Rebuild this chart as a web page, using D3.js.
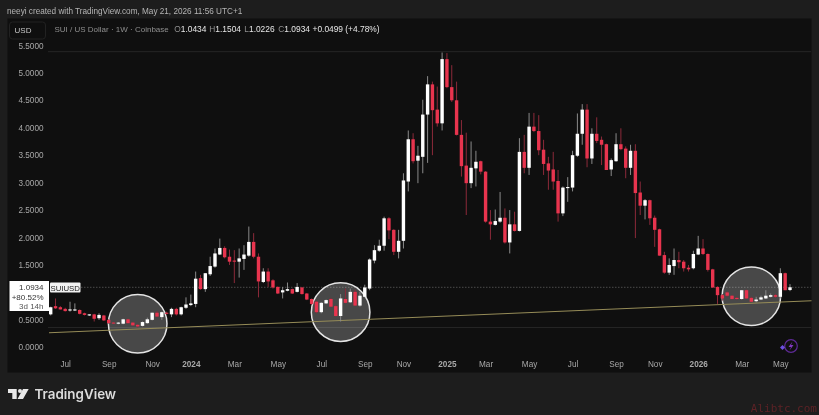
<!DOCTYPE html>
<html><head><meta charset="utf-8">
<script src="https://cdn.jsdelivr.net/npm/d3@7"></script>
<style>html,body{margin:0;padding:0;background:#1d1d1d;overflow:hidden}svg{display:block;filter:blur(.35px)}text{font-family:"Liberation Sans",Arial,sans-serif}</style>
</head><body><svg id="c" width="819" height="415"></svg>
<script>
const opens=[.60,.75,.73,.70,.67,.67,.68,.62,.58,.60,.53,.58,.50,.45,.43,.43,.51,.45,.41,.39,.44,.50,.63,.55,.63,.60,.70,.60,.72,.77,.79,1.26,1.06,1.33,1.47,1.69,1.81,1.65,1.58,1.56,1.61,1.67,1.92,1.65,1.19,1.38,1.22,1.10,1.00,1.03,1.06,1.01,1.09,.98,.88,.83,.64,.80,.88,.75,.57,.88,.82,1.01,.76,.92,1.07,1.58,1.76,1.85,2.35,2.14,1.74,1.94,3.02,3.79,3.40,3.47,4.24,4.79,4.33,4.08,5.25,4.74,4.50,3.87,3.31,2.99,3.26,3.39,3.20,2.29,2.23,2.29,2.36,1.91,2.24,2.12,3.56,3.27,4.02,3.94,3.60,3.35,3.24,3.03,2.44,2.90,2.91,3.49,3.89,4.33,3.44,3.89,3.78,3.70,3.24,3.39,3.70,3.62,3.27,3.58,2.82,2.58,2.68,2.36,2.15,1.68,1.36,1.48,1.59,1.56,1.45,1.44,1.69,1.80,1.70,1.42,1.10,.95,1.00,.94,.90,.88,1.04,.90,.84,.87,.89,.92,.95,.92,1.35,1.0434];
const highs=[.74,.89,.75,.72,.83,.80,.69,.63,.60,.61,.62,.59,.51,.46,.46,.52,.52,.46,.42,.47,.54,.63,.66,.65,.65,.72,.72,.74,.91,.96,1.38,1.32,1.35,1.65,1.80,1.98,1.84,1.78,1.77,1.80,1.86,2.20,2.08,1.71,1.44,1.44,1.24,1.11,1.10,1.18,1.07,1.17,1.10,.99,.89,.84,.82,.87,.90,.77,.97,1.07,1.07,1.05,1.01,1.14,1.62,1.86,1.96,2.38,2.37,2.15,2.14,3.17,3.95,3.90,3.67,4.51,4.94,4.84,4.75,5.37,5.36,5.14,4.84,4.14,3.91,3.75,3.58,3.40,3.21,2.50,2.51,2.83,2.53,2.50,2.47,3.81,3.87,4.27,4.27,4.23,3.78,3.47,3.56,3.23,2.93,3.10,3.58,4.26,4.43,4.43,3.99,4.19,3.84,3.71,3.44,3.90,3.99,3.66,3.69,3.70,3.02,2.70,2.69,2.40,2.16,1.74,1.62,1.80,1.74,1.59,1.50,1.76,2.03,1.97,1.71,1.43,1.11,.97,1.02,.95,.92,1.04,1.05,.92,.92,.94,1.04,.98,.97,1.44,1.36,1.1504];
const lows=[.58,.70,.69,.65,.65,.66,.60,.58,.57,.47,.50,.48,.43,.43,.42,.42,.43,.39,.36,.38,.43,.49,.55,.50,.60,.55,.58,.58,.70,.75,.73,1.05,1.01,1.30,1.45,1.68,1.62,1.50,1.17,1.27,1.41,1.65,1.62,.91,1.17,1.10,1.07,.97,.89,1.02,.97,1.00,.96,.86,.77,.62,.62,.79,.73,.56,.47,.80,.81,.75,.74,.91,1.04,1.53,1.74,1.76,1.97,1.68,1.62,1.80,2.84,3.35,2.99,3.17,3.36,3.50,4.02,3.95,4.72,4.47,3.86,3.11,2.41,2.90,2.93,3.15,2.27,1.96,2.22,2.27,1.89,1.71,2.11,2.11,3.17,3.14,3.92,3.50,3.14,2.87,2.87,2.29,2.39,2.65,2.84,3.47,3.69,3.28,3.34,3.72,3.32,3.23,3.12,3.38,3.59,3.08,3.14,1.99,2.41,2.33,2.23,1.83,1.67,1.34,1.32,1.32,1.44,1.38,1.38,1.42,1.68,1.68,1.38,1.08,.79,.85,.92,.87,.86,.87,.88,.82,.82,.86,.88,.91,.90,.89,1.04,1.0226];
const closes=[.73,.71,.69,.66,.69,.69,.61,.59,.60,.52,.59,.49,.44,.44,.45,.51,.44,.40,.38,.46,.51,.63,.56,.64,.61,.70,.60,.73,.78,.80,1.25,1.06,1.35,1.48,1.71,1.81,1.64,1.56,1.56,1.62,1.69,1.92,1.65,1.20,1.38,1.20,1.09,.98,1.04,1.06,.98,1.10,.97,.87,.79,.64,.81,.86,.74,.57,.89,.81,1.01,.76,.94,1.09,1.60,1.77,1.85,2.35,2.13,1.74,1.94,3.04,3.79,3.39,3.49,4.24,4.79,4.32,4.08,5.25,4.74,4.50,3.87,3.30,2.99,3.27,3.38,3.20,2.29,2.24,2.30,2.36,1.91,2.24,2.12,3.56,3.27,4.02,3.94,3.59,3.34,3.22,3.02,2.44,2.91,2.92,3.50,3.89,4.33,3.44,3.89,3.76,3.69,3.23,3.41,3.70,3.61,3.27,3.58,2.81,2.58,2.68,2.35,2.14,1.67,1.36,1.50,1.59,1.55,1.44,1.42,1.70,1.80,1.70,1.41,1.09,.95,.89,.94,.88,.88,1.04,.89,.83,.87,.91,.94,.95,.92,1.35,1.04,1.0934];
const priceTicks=[0,.5,1.5,2,2.5,3,3.5,4,4.5,5,5.5];
const timeTickLabels=["Jul","Sep","Nov","2024","Mar","May","Jul","Sep","Nov","2025","Mar","May","Jul","Sep","Nov","2026","Mar","May"];
const timeTickIndex=[3,12,21,29,38,47,56,65,73,82,90,99,108,117,125,134,143,151];
const boldTicks=["2024","2025","2026"];
const trendIdx=[-.35,158], trendPrice=[.265,.85];
const lastPrice=1.0934;
const hLines=[5.385,.36];
const circleIdx=[18,60,145], circlePrice=[.43,.64,.93];

const svg=d3.select("#c");
const y=d3.scaleLinear().domain([0,5.5]).range([347.3,45.4]);
const x=d3.scaleLinear().domain([0,153]).range([50.7,790]);
svg.append("rect").attr("width",819).attr("height",415).attr("fill","#1d1d1d");
svg.append("rect").attr("x",7.5).attr("y",18.5).attr("width",804).attr("height",354).attr("fill","#0f0f0f");
svg.append("clipPath").attr("id","p").append("rect").attr("x",7.5).attr("y",18.5).attr("width",804).attr("height",354);
const g=svg.append("g").attr("clip-path","url(#p)");

hLines.forEach(v=>g.append("line").attr("x1",48).attr("x2",811).attr("y1",y(v)).attr("y2",y(v)).attr("stroke","#262626").attr("stroke-width",1));
g.append("line").attr("x1",81).attr("x2",811).attr("y1",y(lastPrice)).attr("y2",y(lastPrice)).attr("stroke","#5c5c5c").attr("stroke-width",.8).attr("stroke-dasharray","1.5 1.5");

const cg=g.append("g");
circleIdx.forEach((c,i)=>{
 cg.append("circle").attr("cx",x(c)).attr("cy",y(circlePrice[i])).attr("r",29.3).attr("fill","#ffffff").attr("fill-opacity",.24).attr("stroke","#e4e4e4").attr("stroke-width",1.5);
});
g.append("line").attr("x1",x(trendIdx[0])).attr("x2",x(trendIdx[1])).attr("y1",y(trendPrice[0])).attr("y2",y(trendPrice[1])).attr("stroke","#968c58").attr("stroke-width",1);

const red="#e8344e",white="#ffffff";
const idx=d3.range(opens.length);
const col=i=>closes[i]>=opens[i]?white:red;
g.selectAll(".w").data(idx).join("line").attr("x1",i=>x(i)).attr("x2",i=>x(i)).attr("y1",i=>y(highs[i])).attr("y2",i=>y(lows[i])).attr("stroke",i=>closes[i]>=opens[i]?"#8a8a8a":"#8c2a3a").attr("stroke-width",1);
g.selectAll(".b").data(idx).join("rect").attr("x",i=>x(i)-1.7).attr("width",3.4).attr("y",i=>y(Math.max(opens[i],closes[i]))).attr("height",i=>Math.max(1,Math.abs(y(opens[i])-y(closes[i])))).attr("fill",col);

const yg=svg.append("g").attr("transform","translate(43.5,0)").call(d3.axisLeft(y).tickValues(priceTicks).tickFormat(d3.format(".4f")).tickSize(0).tickPadding(0));
yg.select(".domain").remove();
yg.selectAll("text").attr("fill","#a8a8a8").attr("font-size",8.2);
const xg=svg.append("g").attr("transform","translate(0,362.5)").call(d3.axisBottom(x).tickValues(timeTickIndex).tickFormat((d,i)=>timeTickLabels[i]).tickSize(0).tickPadding(0));
xg.select(".domain").remove();
xg.selectAll("text").attr("fill","#a8a8a8").attr("font-size",8.2).attr("dy",".35em").attr("font-weight",(d,i)=>boldTicks.includes(timeTickLabels[i])?"bold":"normal").attr("y",2);

svg.append("text").attr("x",7).attr("y",13.5).attr("fill","#b5b5b5").attr("font-size",8.2).text("neeyi created with TradingView.com, May 21, 2026 11:56 UTC+1");
svg.append("rect").attr("x",9.5).attr("y",22).attr("width",36).attr("height",17).attr("rx",3).attr("fill","#0f0f0f").attr("stroke","#222");
svg.append("text").attr("x",23).attr("y",33).attr("text-anchor","middle").attr("fill","#c8c8c8").attr("font-size",8).text("USD");
const hy=32.2;
svg.append("text").attr("x",54.5).attr("y",hy).attr("font-size",8).attr("fill","#8f8f8f").text("SUI / US Dollar · 1W · Coinbase");
[["O","1.0434",174.3],["H","1.1504",209.3],["L","1.0226",244.3],["C","1.0934",278.3]].forEach(([n,v,px])=>{
 const t=svg.append("text").attr("x",px).attr("y",hy).attr("font-size",8.4).attr("fill","#8f8f8f");
 t.append("tspan").text(n);
 t.append("tspan").attr("fill","#e6e6e6").text(v);
});
svg.append("text").attr("x",312.5).attr("y",hy).attr("font-size",8.4).attr("fill","#e6e6e6").text("+0.0499 (+4.78%)");

svg.append("rect").attr("x",9.5).attr("y",281).attr("width",39.5).attr("height",30).attr("fill","#ffffff");
[["1.0934",290.3,"#333"],["+80.52%",299.6,"#333"],["3d 14h",309,"#555"]].forEach(([s,yy,c])=>svg.append("text").attr("x",43.5).attr("y",yy).attr("text-anchor","end").attr("fill",c).attr("font-size",8).text(s));
svg.append("rect").attr("x",50).attr("y",282.5).attr("width",30.5).attr("height",10).attr("rx",1).attr("fill","#f2f2f2");
svg.append("text").attr("x",65.2).attr("y",290.5).attr("text-anchor","middle").attr("fill","#222").attr("font-size",7.8).text("SUIUSD");

svg.append("circle").attr("cx",791).attr("cy",346).attr("r",6.3).attr("fill","none").attr("stroke","#5e2a96").attr("stroke-width",1.2);
svg.append("path").attr("d","M792.5 341.5L788.5 347H791L789.5 350.5L793.5 345H791Z").attr("fill","#8238c0");
svg.append("path").attr("d","M782.5 345L785 347.5L782.5 350L780 347.5Z").attr("fill","#6d4fe0");

svg.append("path").attr("d","M8 389H16.7V399H12.3V393H8ZM23 389H28.7L23 399H17.5Z").attr("fill","#e8e8e8");
svg.append("circle").attr("cx",20).attr("cy",391).attr("r",2).attr("fill","#e8e8e8");
svg.append("text").attr("x",34.5).attr("y",399).attr("fill","#dcdcdc").attr("font-size",13.4).attr("font-weight","600").attr("style","font-family:Inter,Roboto,sans-serif").text("TradingView");
svg.append("text").attr("x",817).attr("y",412).attr("text-anchor","end").attr("fill","#5c2226").attr("font-size",11).attr("style","font-family:'DejaVu Sans Mono',monospace").text("Alibtc.com");
</script></body></html>
